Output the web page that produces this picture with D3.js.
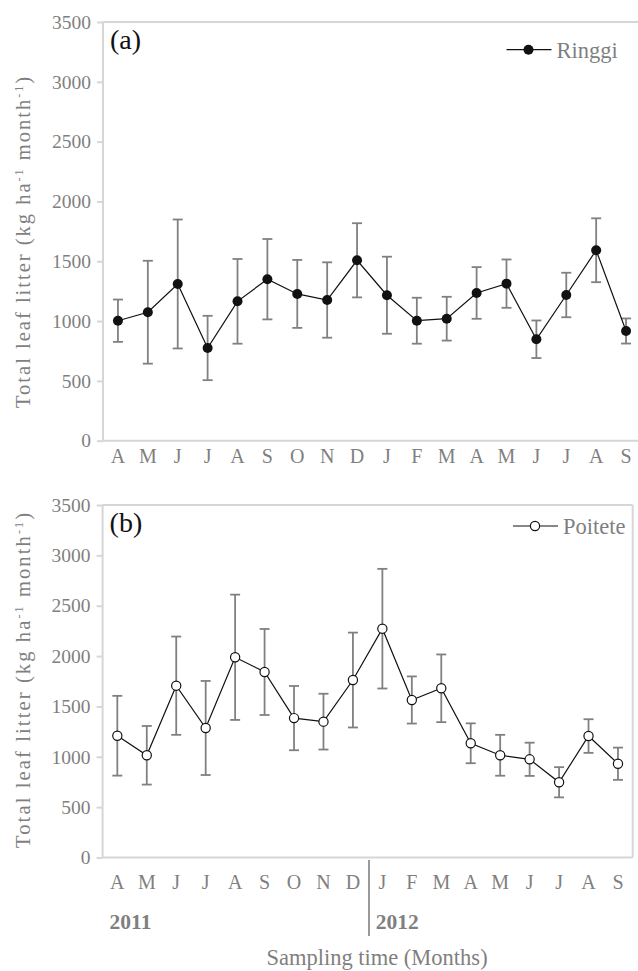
<!DOCTYPE html>
<html><head><meta charset="utf-8">
<script src="https://cdn.jsdelivr.net/npm/d3@7"></script>
<style>
html,body{margin:0;padding:0;background:#fff;}
svg text{font-family:"Liberation Serif","Tinos","Times New Roman","Times","DejaVu Serif","Noto Serif",serif !important;}
</style></head>
<body>
<svg id="chart" width="638" height="971"></svg>
<script>
// ---------- data ----------
const months = ["A","M","J","J","A","S","O","N","D","J","F","M","A","M","J","J","A","S"];
const yTicks = [0,500,1000,1500,2000,2500,3000,3500];
const ringgiMean = [1003,1074,1310,775,1165,1350,1227,1176,1508,1216,1003,1020,1235,1313,848,1218,1592,917];
const ringgiErr  = [177,430,539,269,354,336,284,315,310,322,192,183,216,202,157,186,267,105];
const poiteteMean = [1209,1015,1706,1286,1988,1842,1384,1349,1762,2272,1564,1680,1134,1015,975,747,1206,931];
const poiteteErr  = [396,291,488,467,622,427,319,277,471,594,234,336,198,203,165,150,167,160];
const years = ["2011","2012"];

const svg = d3.select("#chart");
const grey = "#7f7f7f", axisCol = "#d6d6d6", errCol = "#808080";

function panel(opt){
  const g = svg.append("g");
  const x = d3.scaleBand().domain(d3.range(months.length)).range([opt.x0, opt.x1]).padding(0);
  const y = d3.scaleLinear().domain([0,3500]).range([opt.yb, opt.yt]);
  g.append("line").attr("x1",opt.x0).attr("x2",opt.x0).attr("y1",opt.yt).attr("y2",opt.yb).attr("stroke",axisCol).attr("stroke-width",2);
  g.append("line").attr("x1",opt.x0).attr("x2",opt.x1).attr("y1",opt.yb).attr("y2",opt.yb).attr("stroke",axisCol).attr("stroke-width",2);
  g.append("line").attr("x1",opt.x0).attr("x2",opt.x1).attr("y1",opt.yt).attr("y2",opt.yt).attr("stroke",axisCol).attr("stroke-width",2);
  if(opt.rightBorder) g.append("line").attr("x1",opt.x1).attr("x2",opt.x1).attr("y1",opt.yt).attr("y2",opt.yb).attr("stroke",axisCol).attr("stroke-width",2);
  const ya = g.append("g").attr("transform",`translate(${opt.x0},0)`)
    .call(d3.axisLeft(y).tickValues(yTicks).tickSize(6).tickPadding(6).tickFormat(d3.format("d")));
  ya.attr("font-family",null).attr("font-size",null);
  ya.select(".domain").remove();
  ya.selectAll(".tick line").attr("stroke",axisCol).attr("stroke-width",2);
  ya.selectAll(".tick text").attr("fill",grey).style("font-size","19.5px");
  g.selectAll("text.xl").data(months).join("text").attr("class","xl")
    .attr("x",(d,i)=>x(i)+x.bandwidth()/2).attr("y",opt.xlab)
    .attr("text-anchor","middle").attr("fill",grey).style("font-size","20px").text(d=>d);
  const yl = g.append("text").attr("transform",`translate(29.5,${opt.ylc}) rotate(-90)`)
    .attr("text-anchor","middle").attr("fill",grey).style("font-size","20.5px")
    .attr("textLength",opt.ylLen).attr("lengthAdjust","spacing");
  yl.append("tspan").text(opt.ylText);
  yl.append("tspan").text("-1").attr("dy",-7).style("font-size","12px");
  yl.append("tspan").text(" month").attr("dy",7);
  yl.append("tspan").text("-1").attr("dy",-7).style("font-size","12px");
  yl.append("tspan").text(")").attr("dy",7);
  const cx = i => x(i)+x.bandwidth()/2;
  const eb = g.append("g").attr("stroke",errCol).attr("stroke-width",1.8);
  opt.mean.forEach((m,i)=>{
    const e = opt.err[i];
    eb.append("line").attr("x1",cx(i)).attr("x2",cx(i)).attr("y1",y(m+e)).attr("y2",y(m-e));
    eb.append("line").attr("x1",cx(i)-5).attr("x2",cx(i)+5).attr("y1",y(m+e)).attr("y2",y(m+e));
    eb.append("line").attr("x1",cx(i)-5).attr("x2",cx(i)+5).attr("y1",y(m-e)).attr("y2",y(m-e));
  });
  g.append("path").datum(opt.mean).attr("fill","none").attr("stroke","#111").attr("stroke-width",1.2)
    .attr("d",d3.line().x((d,i)=>cx(i)).y(d=>y(d)));
  g.selectAll("circle.pt").data(opt.mean).join("circle").attr("class","pt")
    .attr("cx",(d,i)=>cx(i)).attr("cy",d=>y(d)).attr("r",opt.filled?5:4.6)
    .attr("fill",opt.filled?"#111":"#fff").attr("stroke","#111").attr("stroke-width",opt.filled?0:1.2);
  g.append("text").attr("x",opt.x0+7).attr("y",opt.yt+27).attr("fill","#111").style("font-size","28px").text(opt.letter);
  g.append("line").attr("x1",opt.legX).attr("x2",opt.legX+45).attr("y1",opt.legY).attr("y2",opt.legY).attr("stroke","#111").attr("stroke-width",1.2);
  g.append("circle").attr("cx",opt.legX+22).attr("cy",opt.legY).attr("r",opt.filled?5:4.6)
    .attr("fill",opt.filled?"#111":"#fff").attr("stroke","#111").attr("stroke-width",opt.filled?0:1.2);
  g.append("text").attr("x",opt.legX+50).attr("y",opt.legY+8).attr("fill",grey).style("font-size","22.5px").text(opt.name);
  return {x,y};
}

panel({x0:103,x1:641,yt:22,yb:440.7,xlab:463,ylc:242.5,ylLen:331,ylText:"Total leaf litter  (kg ha",
  mean:ringgiMean,err:ringgiErr,filled:true,letter:"(a)",name:"Ringgi",legX:506.5,legY:49.7,rightBorder:false});
const pb = panel({x0:102.6,x1:632.7,yt:505,yb:857.5,xlab:889,ylc:680.5,ylLen:335,ylText:"Total leaf litter (kg ha",
  mean:poiteteMean,err:poiteteErr,filled:false,letter:"(b)",name:"Poitete",legX:513,legY:526,rightBorder:true});

const xb = pb.x;
svg.append("line").attr("x1",369).attr("x2",369).attr("y1",860).attr("y2",936).attr("stroke","#9a9a9a").attr("stroke-width",2);
svg.append("text").attr("x",xb(0)+7).attr("y",929).attr("fill",grey).style("font-size","21.5px").style("font-weight","bold").text(years[0]);
svg.append("text").attr("x",xb(9)+8).attr("y",929).attr("fill",grey).style("font-size","21.5px").style("font-weight","bold").text(years[1]);
svg.append("text").attr("x",377).attr("y",965).attr("text-anchor","middle").attr("fill",grey).style("font-size","22.5px").text("Sampling time (Months)");
</script>
</body></html>
